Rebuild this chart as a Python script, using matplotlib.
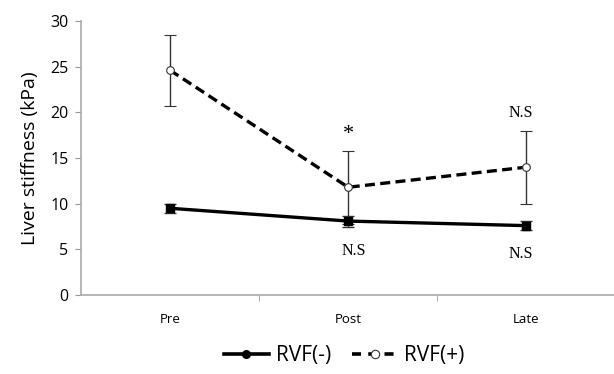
import numpy as np
import matplotlib.pyplot as plt
from matplotlib.lines import Line2D

phases = ['Pre', 'Post', 'Late']
rvf_neg = [9.5, 8.1, 7.6]
rvf_neg_err = [0.5, 0.6, 0.5]
rvf_pos = [24.6, 11.8, 14.0]
rvf_pos_err = [3.9, 4.0, 4.0]

# annotation labels: (x, y, text)
notes = [(1.0, 17.6, '*'), (1.97, 19.9, 'N.S'), (1.03, 4.8, 'N.S'), (1.97, 4.5, 'N.S')]

fig = plt.figure(figsize=(6.14, 3.74), dpi=100)
ax = fig.add_axes([0.132, 0.211, 0.87, 0.733])

x = np.arange(len(phases))
ax.errorbar(x, rvf_neg, yerr=rvf_neg_err, color='black', lw=2.4, marker='s', ms=6,
            capsize=4, elinewidth=1.0, ecolor='#333333', zorder=3)
ax.errorbar(x, rvf_pos, yerr=rvf_pos_err, color='black', lw=2.4, ls=(0, (3, 1.6)), marker='o', ms=5.5,
            mfc='white', mec='#333333', mew=0.8, capsize=4, elinewidth=1.0, ecolor='#333333', zorder=3)

for xx, yy, t in notes:
    if t == '*':
        ax.text(xx, yy, t, ha='center', va='center', fontsize=16, family='Liberation Serif')
    else:
        ax.text(xx, yy, t, ha='center', va='center', fontsize=11.5, family='Liberation Serif')

ax.set_xlim(-0.5, 2.5)
ax.set_ylim(0, 30)
ax.set_yticks(range(0, 31, 5))
ax.set_xticks(x)
ax.set_xticklabels(phases, fontsize=9.5, family='Open Sans')
ax.set_xticks([0.5, 1.5], minor=True)
ax.tick_params(axis='x', which='major', length=0, pad=13)
ax.tick_params(axis='x', which='minor', length=4, color='#999999', direction='out')
ax.tick_params(axis='y', length=4, color='#999999', labelsize=11.5, pad=5)
for lab in ax.get_yticklabels():
    lab.set_family('Open Sans')
ax.set_ylabel('Liver stiffness (kPa)', fontsize=14, family='Open Sans', labelpad=8)

for s in ['top', 'right']:
    ax.spines[s].set_visible(False)
for s in ['left', 'bottom']:
    ax.spines[s].set_color('#aaaaaa')
    ax.spines[s].set_linewidth(1.2)

handles = [Line2D([], [], color='black', lw=2.6, marker='o', ms=5.5),
           Line2D([], [], color='black', lw=2.6, ls=(0, (2.5, 2)), marker='o', ms=6, mfc='white',
                  mec='#333333', mew=0.8)]
fig.legend(handles, ['RVF(-)', 'RVF(+)'], loc='center', bbox_to_anchor=(0.56, 0.05), ncol=2,
           frameon=False, prop={'family': 'Open Sans', 'size': 15}, handlelength=2.2,
           columnspacing=1.0, handletextpad=0.3)

fig.savefig('out.png', dpi=100)
